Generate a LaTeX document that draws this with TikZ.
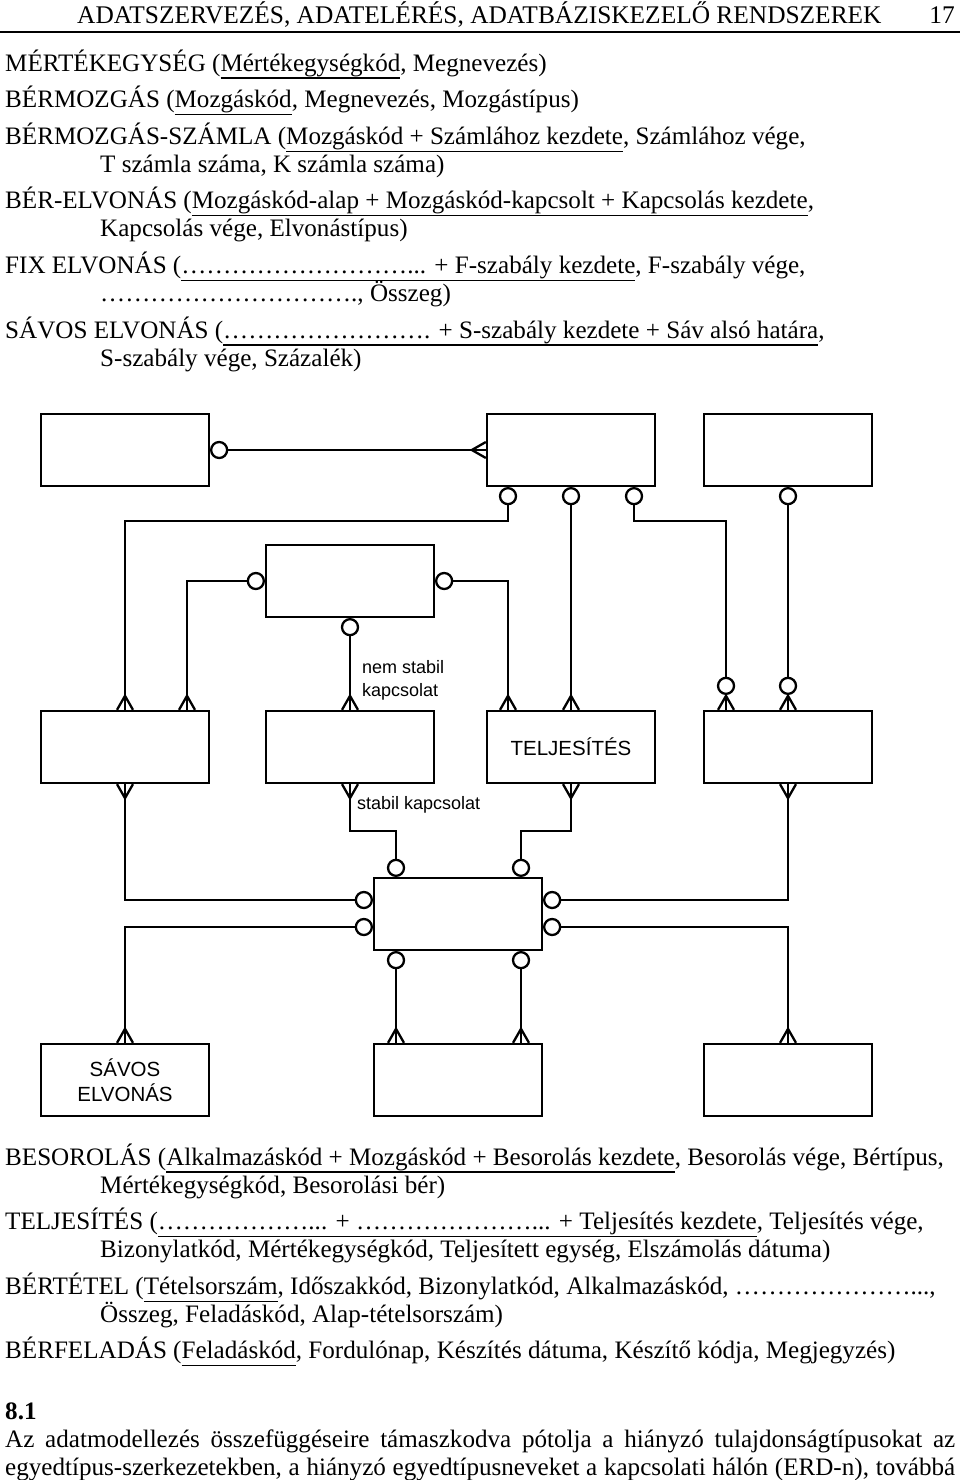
\documentclass[tikz,border=0pt]{standalone}
\usepackage{fontspec}
\setmainfont{Liberation Serif}
\setsansfont{Liberation Sans}
\usetikzlibrary{calc}
\ExplSyntaxOn
\cs_new:Npn \dd #1 {\prg_replicate:nn{#1}{…}}
\ExplSyntaxOff
\newcommand\ulx[1]{\setbox0\hbox{#1}\rlap{\rule[-7.6pt]{\wd0}{1.3pt}}\box0}
\newcommand\crowU[1]{\draw[rel] ($(#1)+(-8,0)$) -- ($(#1)+(0,-14)$) -- ($(#1)+(8,0)$);}
\newcommand\crowD[1]{\draw[rel] ($(#1)+(-8,0)$) -- ($(#1)+(0,14)$) -- ($(#1)+(8,0)$);}
\newcommand\crowL[1]{\draw[rel] ($(#1)+(0,-8)$) -- ($(#1)+(-14,0)$) -- ($(#1)+(0,8)$);}
\begin{document}
\begin{tikzpicture}[x=1pt,y=-1pt,
  rel/.style={line width=2.3pt},
  ent/.style={draw, line width=2.3pt, minimum width=168pt, minimum height=72pt, inner sep=0pt,
    font=\sffamily\fontsize{20.5}{25}\selectfont, align=center},
  zero/.style={circle, draw, fill=white, line width=2.3pt, minimum size=16pt, inner sep=0pt},
  lbl/.style={inner sep=0pt, font=\sffamily\fontsize{18}{23}\selectfont, align=left},
  txt/.style={anchor=base west, inner sep=0pt, font=\fontsize{25.1}{28}\selectfont},
  hdr/.style={inner sep=0pt, font=\fontsize{25.4}{28}\selectfont}]
\useasboundingbox (0,0) rectangle (960,1480);
\fill[white] (0,0) rectangle (960,1480);

% header
\node[hdr, anchor=base west] (h1) at (77,24) {ADATSZERVEZÉS, ADATELÉRÉS, ADATBÁZISKEZELŐ RENDSZEREK};
\node[hdr, anchor=base east] (h2) at (955,24) {17};
\coordinate (rl) at (0,32); \coordinate (rr) at (960,32);
\draw[line width=1.2pt] (rl) -- (rr);

% upper text
\node[txt] (l1) at (5,71) {MÉRTÉKEGYSÉG (\ulx{Mértékegységkód}, Megnevezés)};
\node[txt] (l2) at (5,107.6) {BÉRMOZGÁS (\ulx{Mozgáskód}, Megnevezés, Mozgástípus)};
\node[txt] (l3) at (5,144.2) {BÉRMOZGÁS-SZÁMLA (\ulx{Mozgáskód + Számlához kezdete}, Számlához vége,};
\node[txt] (l4) at (100,172.2) {T számla száma, K számla száma)};
\node[txt] (l5) at (5,208.8) {BÉR-ELVONÁS (\ulx{Mozgáskód-alap + Mozgáskód-kapcsolt + Kapcsolás kezdete},};
\node[txt] (l6) at (100,236.8) {Kapcsolás vége, Elvonástípus)};
\node[txt] (l7) at (5,273.4) {FIX ELVONÁS (\ulx{\dd{9}... + F-szabály kezdete}, F-szabály vége,};
\node[txt] (l8) at (100,301.4) {\dd{10}., Összeg)};
\node[txt] (l9) at (5,338) {SÁVOS ELVONÁS (\ulx{\dd{8}. + S-szabály kezdete + Sáv alsó határa},};
\node[txt] (l10) at (100,366) {S-szabály vége, Százalék)};

% lower text
\node[txt] (l11) at (5,1165) {BESOROLÁS (\ulx{Alkalmazáskód + Mozgáskód + Besorolás kezdete}, Besorolás vége, Bértípus,};
\node[txt] (l12) at (100,1193) {Mértékegységkód, Besorolási bér)};
\node[txt] (l13) at (5,1229.6) {TELJESÍTÉS (\ulx{\dd{6}... + \dd{7}... + Teljesítés kezdete}, Teljesítés vége,};
\node[txt] (l14) at (100,1257.6) {Bizonylatkód, Mértékegységkód, Teljesített egység, Elszámolás dátuma)};
\node[txt] (l15) at (5,1294.2) {BÉRTÉTEL (\ulx{Tételsorszám}, Időszakkód, Bizonylatkód, Alkalmazáskód, \dd{7}...,};
\node[txt] (l16) at (100,1322.2) {Összeg, Feladáskód, Alap-tételsorszám)};
\node[txt] (l17) at (5,1358.8) {BÉRFELADÁS (\ulx{Feladáskód}, Fordulónap, Készítés dátuma, Készítő kódja, Megjegyzés)};
\node[txt, font=\fontsize{25.1}{28}\selectfont\bfseries] (l18) at (5,1419) {8.1};
\node[txt] (l19) at (5,1447) {\makebox[950pt][s]{Az adatmodellezés összefüggéseire támaszkodva pótolja a hiányzó tulajdonságtípusokat az}};
\node[txt] (l20) at (5,1475) {\makebox[950pt][s]{egyedtípus-szerkezetekben, a hiányzó egyedtípusneveket a kapcsolati hálón (ERD-n), továbbá}};

% entities
\node[ent] (A) at (125,450) {};
\node[ent] (B) at (571,450) {};
\node[ent] (C) at (788,450) {};
\node[ent] (E) at (350,581) {};
\node[ent] (D) at (125,747) {};
\node[ent] (G) at (350,747) {};
\node[ent] (T) at (571,747) {TELJESÍTÉS};
\node[ent] (F) at (788,747) {};
\node[ent] (H) at (458,914) {};
\node[ent] (S) at (125,1080) {SÁVOS\\ELVONÁS};
\node[ent] (M) at (458,1080) {};
\node[ent] (R) at (788,1080) {};

% optional-ends (circles)
\node[zero] (ca) at ($(A.east)+(9,0)$) {};
\node[zero] (cb1) at ($(B.south)+(-63,9)$) {};
\node[zero] (cb2) at ($(B.south)+(0,9)$) {};
\node[zero] (cb3) at ($(B.south)+(63,9)$) {};
\node[zero] (cc) at ($(C.south)+(0,9)$) {};
\node[zero] (ce1) at ($(E.west)+(-9,0)$) {};
\node[zero] (ce2) at ($(E.east)+(9,0)$) {};
\node[zero] (ce3) at ($(E.south)+(0,9)$) {};
\node[zero] (cf1) at ($(F.north)+(-62,-24)$) {};
\node[zero] (cf2) at ($(F.north)+(0,-24)$) {};
\node[zero] (ch1) at ($(H.north)+(-62,-9)$) {};
\node[zero] (ch2) at ($(H.north)+(63,-9)$) {};
\node[zero] (ch3) at ($(H.west)+(-9,-14)$) {};
\node[zero] (ch4) at ($(H.west)+(-9,13)$) {};
\node[zero] (ch5) at ($(H.east)+(9,-14)$) {};
\node[zero] (ch6) at ($(H.east)+(9,13)$) {};
\node[zero] (ch7) at ($(H.south)+(-62,9)$) {};
\node[zero] (ch8) at ($(H.south)+(63,9)$) {};

% edge points
\coordinate (Bw) at (B.west);
\coordinate (d1) at (D.north);
\coordinate (d2) at ($(D.north)+(62,0)$);
\coordinate (dS) at (D.south);
\coordinate (g1) at (G.north);
\coordinate (g2) at (G.south);
\coordinate (t1) at ($(T.north)+(-63,0)$);
\coordinate (t2) at (T.north);
\coordinate (t3) at (T.south);
\coordinate (f1) at ($(F.north)+(-62,0)$);
\coordinate (f2) at (F.north);
\coordinate (f3) at (F.south);
\coordinate (s1) at (S.north);
\coordinate (m1) at ($(M.north)+(-62,0)$);
\coordinate (m2) at ($(M.north)+(63,0)$);
\coordinate (r1) at (R.north);
\coordinate (k1) at (125,521);
\coordinate (k2) at (726,521);
\coordinate (k3) at (350,831);
\coordinate (k4) at (571,831);

% connectors
\draw[rel] (ca.east) -- (Bw); \crowL{Bw}
\draw[rel] (cb1.south) |- (k1) -- (d1); \crowU{d1}
\draw[rel] (cb2.south) -- (t2); \crowU{t2}
\draw[rel] (cb3.south) |- (k2) -- (cf1.north);
\draw[rel] (cf1.south) -- (f1); \crowU{f1}
\draw[rel] (cc.south) -- (cf2.north);
\draw[rel] (cf2.south) -- (f2); \crowU{f2}
\draw[rel] (ce1.west) -| (d2); \crowU{d2}
\draw[rel] (ce2.east) -| (t1); \crowU{t1}
\draw[rel] (ce3.south) -- (g1); \crowU{g1}
\draw[rel] (g2) -- (k3) -| (ch1.north); \crowD{g2}
\draw[rel] (t3) -- (k4) -| (ch2.north); \crowD{t3}
\draw[rel] (dS) |- (ch3.west); \crowD{dS}
\draw[rel] (f3) |- (ch5.east); \crowD{f3}
\draw[rel] (ch4.west) -| (s1); \crowU{s1}
\draw[rel] (ch6.east) -| (r1); \crowU{r1}
\draw[rel] (ch7.south) -- (m1); \crowU{m1}
\draw[rel] (ch8.south) -- (m2); \crowU{m2}

% labels
\node[lbl, anchor=north west] (nl) at (362,660) {nem stabil\\kapcsolat};
\node[lbl, anchor=base west] (sl) at (357,809) {stabil kapcsolat};
\end{tikzpicture}
\end{document}
